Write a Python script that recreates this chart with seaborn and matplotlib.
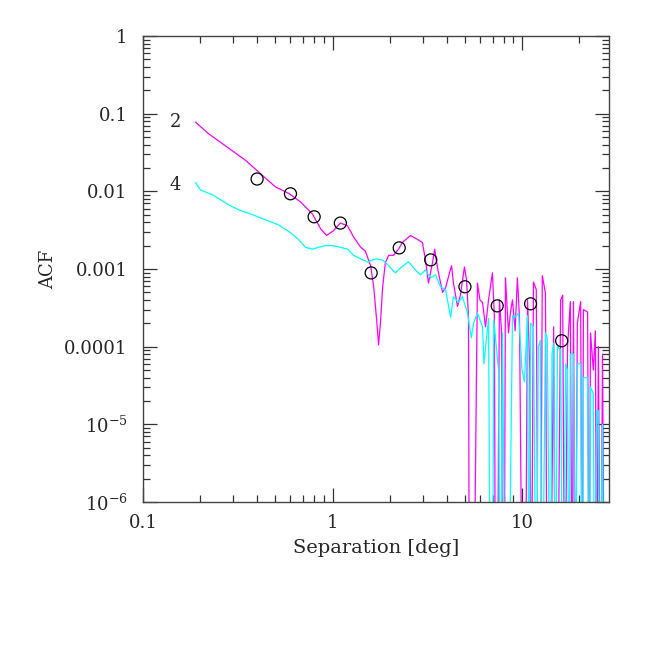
import numpy as np
import pandas as pd
import matplotlib
matplotlib.use("Agg")
import matplotlib.pyplot as plt
from matplotlib.ticker import FixedLocator, LogLocator, NullFormatter, FuncFormatter
import seaborn as sns

# --------------------------------------------------------------------------- #
# Data (1e-8 marks points that fall below the axis)
# --------------------------------------------------------------------------- #
BOT = 1e-8

sep_2 = [0.189, 0.222, 0.283, 0.348, 0.427, 0.50, 0.593, 0.678, 0.784, 0.865,
         0.93, 1.01, 1.10, 1.20, 1.29, 1.41, 1.49, 1.59, 1.65, 1.71,
         1.75, 1.79, 1.84, 1.90, 1.98, 2.10, 2.23, 2.34, 2.58, 2.81,
         2.98, 3.08, 3.21, 3.37, 3.46, 3.60, 3.81, 3.95, 4.15, 4.25,
         4.35, 4.57, 4.73, 4.97, 5.10, 5.22, 5.28, 5.55, 5.82, 6.00,
         6.19, 6.42, 6.66, 6.98, 7.15, 7.25, 7.40, 7.60, 7.80, 7.89,
         8.05, 8.18, 8.49, 8.70, 8.91, 9.20, 9.46, 9.70, 10.06, 10.4,
         10.7, 11.0, 11.2, 11.5, 11.9, 12.2, 12.5, 12.8, 13.3, 13.6,
         14.1, 14.7, 15.0, 15.4, 16.0, 16.4, 16.8, 17.4, 18.0, 18.4,
         18.7, 19.1, 19.6, 20.4, 20.8, 21.1, 22.2, 22.6, 23.0, 23.8,
         24.4, 24.8, 25.3, 26.0, 26.6, 27.3]
acf_2 = [0.078, 0.055, 0.036, 0.025, 0.016, 0.0114, 0.0093, 0.0073, 0.0051, 0.0033,
         0.0027, 0.0031, 0.0039, 0.0036, 0.0026, 0.0019, 0.0017, 0.0011, 0.00059, 0.00022,
         0.000105, 0.0002, 0.00059, 0.0012, 0.0015, 0.0015, 0.0018, 0.0022, 0.0027, 0.0024,
         0.0022, 0.0014, 0.00066, 0.0012, 0.0018, 0.00097, 0.0005, 0.00057, 0.0009, 0.0011,
         0.00065, 0.00033, 0.00046, 0.00106, 0.00072, 0.00024, BOT, BOT, 0.00066, 0.0004,
         0.00037, 0.00018, 0.0004, 0.00089, 0.00025, BOT, BOT, 0.0004, 0.00016, BOT,
         BOT, 0.00077, 0.00015, 0.00028, 0.0004, 0.00016, 0.00077, 0.00024, BOT, BOT,
         0.0004, 0.00005, BOT, 0.00068, 0.00054, BOT, BOT, 0.00082, 0.00049, BOT,
         BOT, 0.00018, BOT, BOT, 0.0004, 0.00046, BOT, 0.0001, 0.00038, BOT,
         0.00038, BOT, 0.0002, 0.00038, BOT, 0.0003, 0.00028, BOT, 0.00015, 0.00005,
         0.00016, BOT, 0.0001, BOT, 0.00008, BOT]

sep_4 = [0.189, 0.201, 0.233, 0.283, 0.319, 0.378, 0.443, 0.519, 0.593, 0.662,
         0.721, 0.784, 0.844, 0.918, 1.0, 1.10, 1.20, 1.29, 1.41, 1.53,
         1.69, 1.84, 1.98, 2.15, 2.28, 2.52, 2.74, 2.91, 3.09, 3.29,
         3.50, 3.72, 3.95, 4.20, 4.35, 4.62, 4.85, 5.16, 5.40, 5.55,
         5.82, 6.19, 6.30, 6.66, 6.82, 6.98, 7.10, 7.52, 7.70, 7.89,
         8.18, 8.49, 8.91, 9.20, 9.60, 10.0, 10.3, 10.7, 10.9, 11.1,
         11.5, 11.9, 12.2, 12.5, 12.8, 13.3, 13.6, 14.1, 14.4, 14.7,
         15.0, 15.4, 16.0, 16.4, 17.0, 17.4, 17.7, 18.0, 18.7, 19.1,
         19.6, 20.4, 20.8, 21.1, 22.2, 22.6, 23.0, 23.8, 24.2, 24.8,
         25.3, 25.8, 26.6, 27.0]
acf_4 = [0.013, 0.0104, 0.009, 0.0067, 0.0058, 0.005, 0.0043, 0.0037, 0.003, 0.0024,
         0.0019, 0.0018, 0.0019, 0.002, 0.002, 0.0019, 0.0018, 0.0015, 0.00135, 0.00123,
         0.00135, 0.0013, 0.0011, 0.00089, 0.00103, 0.00124, 0.00097, 0.00084, 0.00097, 0.00077,
         0.00084, 0.00059, 0.00054, 0.00024, 0.00044, 0.00037, 0.00044, 0.00027, 0.00013, 0.0002,
         0.00027, 0.00018, 0.00006, 0.00023, BOT, BOT, 0.00022, 0.00005, BOT, 0.00015,
         BOT, BOT, 0.00025, 0.00024, 0.00027, 0.00005, 0.000035, 0.00025, BOT, 0.0002,
         0.00018, BOT, 0.0001, 0.00012, BOT, 0.00015, 0.00013, BOT, 0.00008, 0.00011,
         BOT, 0.0001, 0.00009, BOT, 0.00006, 0.00005, BOT, 0.00008, 0.00008, BOT,
         0.00006, 0.00006, BOT, 0.00004, 0.00004, BOT, 0.00003, 0.000025, BOT, 0.000015,
         0.000015, BOT, 0.00001, BOT]

sep_pts = [0.40, 0.60, 0.80, 1.10, 1.60, 2.25, 3.30, 5.0, 7.4, 11.1, 16.2]
acf_pts = [0.0144, 0.0093, 0.0047, 0.0039, 0.00089, 0.00187, 0.00131, 0.00059,
           0.000335, 0.000356, 0.000119]

curve_labels = ["2", "4"]
label_sep = 0.148
label_acf = [0.078, 0.0121]

MAGENTA = "#ff00ff"
CYAN = "#00ffff"

# --------------------------------------------------------------------------- #
# Plot
# --------------------------------------------------------------------------- #
sns.set_style("ticks")
plt.rcParams["font.family"] = ["DejaVu Serif"]
plt.rcParams["mathtext.fontset"] = "dejavuserif"

fig = plt.figure(figsize=(6.64, 6.64), dpi=100)
ax = fig.add_axes([0.2154, 0.244, 0.7018, 0.7018])

df2 = pd.DataFrame({"sep": sep_2, "acf": acf_2})
df4 = pd.DataFrame({"sep": sep_4, "acf": acf_4})
dpts = pd.DataFrame({"sep": sep_pts, "acf": acf_pts})

sns.lineplot(data=df2, x="sep", y="acf", ax=ax, color=MAGENTA, lw=0.9,
             estimator=None, sort=False)
sns.lineplot(data=df4, x="sep", y="acf", ax=ax, color=CYAN, lw=0.9,
             estimator=None, sort=False)
sns.scatterplot(data=dpts, x="sep", y="acf", ax=ax, s=75, marker="o",
                facecolor="none", edgecolor="black", linewidth=0.9, zorder=5)

for lab, yv in zip(curve_labels, label_acf):
    ax.text(label_sep, yv, lab, fontsize=13, ha="center", va="center")

ax.set_xscale("log")
ax.set_yscale("log")
ax.set_xlim(0.1, 28.8)
ax.set_ylim(1e-6, 1)

def yfmt(v, pos):
    e = int(round(np.log10(v)))
    if e >= -4:
        return f"{v:.{max(0, -e)}f}"
    return rf"$10^{{{e}}}$"

def xfmt(v, pos):
    e = int(round(np.log10(v)))
    return f"{v:.{max(0, -e)}f}"

ax.yaxis.set_major_locator(FixedLocator([1e-6, 1e-5, 1e-4, 1e-3, 1e-2, 1e-1, 1]))
ax.yaxis.set_major_formatter(FuncFormatter(yfmt))
ax.yaxis.set_minor_locator(LogLocator(base=10, subs=np.arange(2, 10), numticks=20))
ax.yaxis.set_minor_formatter(NullFormatter())
ax.xaxis.set_major_locator(FixedLocator([0.1, 1, 10]))
ax.xaxis.set_major_formatter(FuncFormatter(xfmt))
ax.xaxis.set_minor_locator(LogLocator(base=10, subs=np.arange(2, 10), numticks=20))
ax.xaxis.set_minor_formatter(NullFormatter())

ax.tick_params(which="both", direction="in", top=True, right=True,
               color="#333333", width=0.9, labelsize=13)
ax.tick_params(axis="y", which="major", pad=11)
ax.tick_params(axis="x", which="major", pad=9)
ax.tick_params(which="major", length=10)
ax.tick_params(which="minor", length=5)
for sp in ax.spines.values():
    sp.set_color("#444444")
    sp.set_linewidth(1.0)

ax.set_xlabel("Separation [deg]", fontsize=14, labelpad=5)
ax.set_ylabel("ACF", fontsize=13, labelpad=5)

fig.savefig("out.png", dpi=100)
